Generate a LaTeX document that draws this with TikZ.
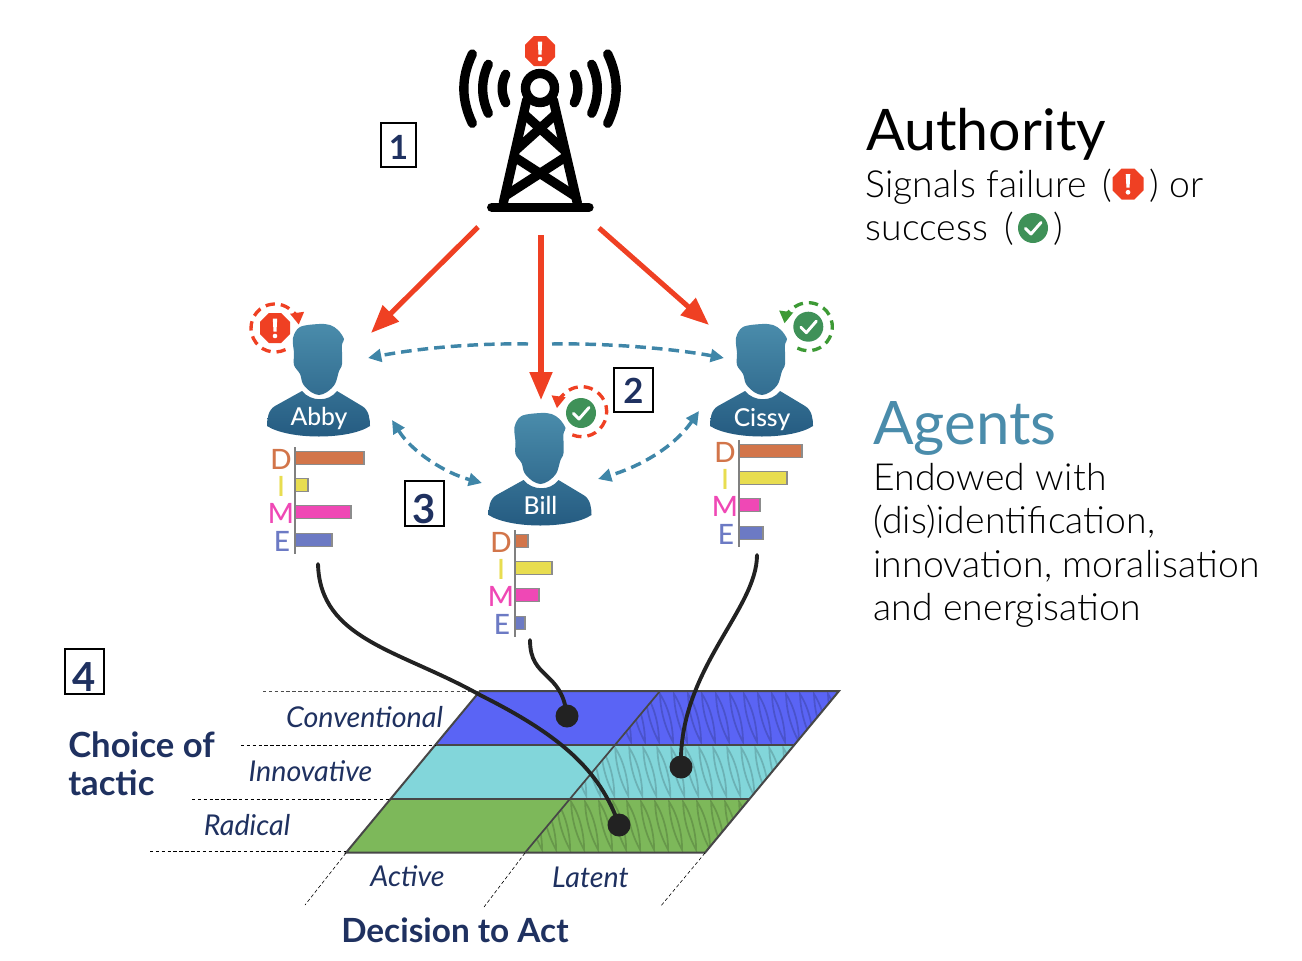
\documentclass[tikz,border=0pt]{standalone}
\usepackage{fontspec}
\setmainfont{Lato}
\newfontfamily\lightf{Lato Light}
\newfontfamily\bodyf{Lato Light}[LetterSpace=0.5]
\newfontfamily\medf{Lato Medium}
\usetikzlibrary{arrows.meta}
\definecolor{redc}{HTML}{EF4023}
\definecolor{greenc}{HTML}{3F9158}
\definecolor{dgreen}{HTML}{3D9A35}
\definecolor{bluec}{HTML}{3F86A8}
\definecolor{headt}{HTML}{4A8CAB}
\definecolor{headb}{HTML}{245A80}
\definecolor{navy}{HTML}{1F3160}
\definecolor{cd}{HTML}{D2754A}
\definecolor{ci}{HTML}{E8DD50}
\definecolor{cm}{HTML}{EF48B5}
\definecolor{ce}{HTML}{6C7AC4}
\definecolor{rowa}{HTML}{5A64F5}
\definecolor{rowb}{HTML}{82D6DA}
\definecolor{rowc}{HTML}{7DB85A}
\definecolor{inkc}{HTML}{222222}
\newcommand{\fsz}[1]{\fontsize{#1}{#1}\selectfont}
\tikzset{
  towerline/.style={line width=7pt,black,line cap=round},
  redarrow/.style={line width=3.8pt,redc,-{Triangle[length=21pt,width=16.5pt]}},
  bluearrow/.style={line width=2.6pt,bluec,dash pattern=on 8pt off 4.5pt,-{Triangle[length=10pt,width=9.5pt]}},
  bluedouble/.style={line width=2.6pt,bluec,dash pattern=on 8pt off 4.5pt,{Triangle[length=10pt,width=9.5pt]}-{Triangle[length=10pt,width=9.5pt]}},
  ringarrow/.style={line width=2.5pt,dash pattern=on 7pt off 4.5pt,-{Triangle[length=9pt,width=10pt]}},
  barbox/.style={draw=black!45,line width=1pt},
  axisline/.style={draw=black!50,line width=0.9pt},
  numbox/.style={draw=black,line width=1.3pt,fill=white,text=navy,font=\bfseries\fsz{30},inner sep=0pt,anchor=center},
  dimelabel/.style={font=\medf\fsz{21},inner sep=0pt,anchor=center},
  tactic/.style={font=\itshape\fsz{21.5},text=navy,inner sep=0pt,anchor=center},
  heading/.style={font=\bfseries\fsz{25},text=navy,inner sep=0pt,anchor=base west},
  bodytext/.style={font=\bodyf\fsz{28},text=black,inner sep=0pt,anchor=base west},
  leader/.style={draw=black,line width=0.6pt,dash pattern=on 2.6pt off 1.8pt},
  inkcurve/.style={draw=inkc,line width=2.9pt,line cap=round},
  inkdot/.style={fill=inkc},
  gridline/.style={draw=black!72,line width=1.5pt},
  hatchline/.style={draw=black,opacity=.17,line width=1.3pt}
}
\newcommand{\stopicon}[3]{%
  \begin{scope}[shift={(#1,#2)},scale=#3/15]
    \fill[redc] (-6.2,-15) -- (6.2,-15) -- (15,-6.2) -- (15,6.2) -- (6.2,15) -- (-6.2,15) -- (-15,6.2) -- (-15,-6.2) -- cycle;
    \fill[white] (-2.2,-9.5) -- (2.2,-9.5) -- (1.5,3.5) -- (-1.5,3.5) -- cycle;
    \fill[white] (0,8) circle [radius=2.3];
  \end{scope}}
\newcommand{\checkicon}[3]{%
  \begin{scope}[shift={(#1,#2)},scale=#3/15]
    \fill[greenc] (0,0) circle [radius=15];
    \draw[white,line width=2.2pt,line cap=round,line join=round] (-7.5,0.5) -- (-2,6) -- (8,-5.5);
  \end{scope}}
% person: name x y label baseline
\newcommand{\person}[5]{%
  \begin{scope}[shift={(#2,#3)}]
    \shade[top color=headt,bottom color=headb]
      plot[smooth cycle,tension=.55] coordinates {(0,0) (11,1) (19,6) (25,15) (23,21) (23,40) (20,47) (16,60) (8,68) (0,71) (-8,68) (-16,60) (-19,50) (-25,41) (-25,29) (-26,14) (-19,3)}
      (-17,67) -- (-44,82) .. controls (-51,86) and (-52,95) .. (-52,102)
      .. controls (-30,116) and (30,116) .. (51,102) .. controls (51,95) and (50,86) .. (43,82)
      -- (18,67) .. controls (10,78) and (-8,78) .. cycle;
    \node[font=\medf\fsz{18.5},text=white,inner sep=0pt,anchor=base] (#1) at (0,#5) {#4};
  \end{scope}}
\newcommand{\dime}[7]{%
  \begin{scope}[shift={(#2,#3)}]
    \draw[barbox,fill=cd] (0,4.5) rectangle (#4,17.5);
    \draw[barbox,fill=ci] (0,31.5) rectangle (#5,44.5);
    \draw[barbox,fill=cm] (0,58.5) rectangle (#6,71.5);
    \draw[barbox,fill=ce] (0,86.5) rectangle (#7,99.5);
    \draw[axisline] (0,0) -- (0,107);
    \node[dimelabel,text=cd] (#1d) at (-14,12) {D};
    \node[dimelabel,text=ci] (#1i) at (-14,39) {I};
    \node[dimelabel,text=cm] (#1m) at (-14,66.5) {M};
    \node[dimelabel,text=ce] (#1e) at (-13,94) {E};
  \end{scope}}
\newcommand{\hatchrow}[2]{%
  \begin{scope}
    \clip (#2,#1) -- ++(179,0) -- ++(-44.2,53.7) -- ++(-179,0) -- cycle;
    \foreach \k in {-4,...,13}{
      \pgfmathsetmacro{\xk}{#2+\k*14}
      \draw[hatchline] (\xk,#1+3) .. controls (\xk+0.5,#1+25) and (\xk+8,#1+42) .. (\xk+13,#1+51)
        .. controls (\xk+13,#1+30) and (\xk+6,#1+12) .. cycle;
    }
  \end{scope}}
\begin{document}
\begin{tikzpicture}[x=0.75pt,y=-0.75pt]
\useasboundingbox (0,0) rectangle (1302,960);
% ---------- tower
\coordinate (towerL) at (478,227);
\coordinate (towerC) at (541,235);
\coordinate (towerR) at (599,228);
\draw[towerline] (526.7,100) -- (503.3,203);
\draw[towerline] (553.3,100) -- (577.3,203);
\draw[towerline] (491.7,207.3) -- (589,207.3);
\draw[towerline,line cap=butt] (524,114) -- (564,150);
\draw[towerline,line cap=butt] (556,114) -- (516,150);
\draw[towerline,line cap=butt] (513,156) -- (575,196);
\draw[towerline,line cap=butt] (567,156) -- (505,196);
\fill[white] (540,88) circle [radius=15];
\draw[towerline] (540,88) circle [radius=14.5];
\draw[towerline] (505.7,74.3) .. controls (501,84) and (501,93) .. (505.7,102.7);
\draw[towerline] (488.3,64.3) .. controls (480.8,80) and (480.8,97) .. (488.3,113.3);
\draw[towerline] (472.3,54) .. controls (461,78) and (461,99) .. (472.3,123.3);
\draw[towerline] (574.3,74.3) .. controls (579,84) and (579,93) .. (574.3,102.7);
\draw[towerline] (591.7,64.3) .. controls (599.2,80) and (599.2,97) .. (591.7,113.3);
\draw[towerline] (607.7,54) .. controls (619,78) and (619,99) .. (607.7,123.3);
\stopicon{540}{51}{15}
% ---------- persons
\person{abby}{319}{324}{Abby}{101}
\person{bill}{540.5}{413}{Bill}{101}
\person{cissy}{762}{324}{Cissy}{102}
\dime{a}{295}{447}{69}{13}{56}{37}
\dime{b}{515}{530}{13}{37}{24}{10}
\dime{c}{739}{440}{63}{48}{21}{24}
% ---------- red arrows
\coordinate (abbyIn) at (371,333);
\coordinate (billIn) at (541,400);
\coordinate (cissyIn) at (709,325);
\draw[redarrow] (towerL) -- (abbyIn);
\draw[redarrow] (towerC) -- (billIn);
\draw[redarrow] (towerR) -- (cissyIn);
% ---------- blue arrows
\coordinate (bluemidL) at (528,344);
\coordinate (bluemidR) at (552,344);
\coordinate (abbySide) at (368,358);
\coordinate (cissySide) at (724,358);
\coordinate (abbyLow) at (392,420);
\coordinate (billLeft) at (482,483);
\coordinate (cissyLow) at (699,411);
\coordinate (billRight) at (598,479);
\draw[bluearrow] (bluemidL) .. controls (470,343) and (415,349) .. (abbySide);
\draw[bluearrow] (bluemidR) .. controls (610,343) and (675,349) .. (cissySide);
\draw[bluedouble] (abbyLow) .. controls (412,452) and (445,473) .. (billLeft);
\draw[bluedouble] (cissyLow) .. controls (672,450) and (635,468) .. (billRight);
% ---------- status icons
\stopicon{275}{328}{15}
\draw[ringarrow,redc] (275,328) ++(64:24 and 24) arc[start angle=64,end angle=352,radius=24];
\checkicon{581}{413}{15}
\draw[ringarrow,redc] (581.7,411.7) ++(112:25 and 25) arc[start angle=112,end angle=-172,radius=25];
\checkicon{808.3}{326.7}{15}
\draw[ringarrow,dgreen] (808.3,326.7) ++(117:24 and 24) arc[start angle=117,end angle=-172,radius=24];
% ---------- number boxes
\node[numbox,minimum width=26pt,minimum height=33pt,font=\bfseries\fsz{25}] (n1) at (398.5,145) {\smash{\raisebox{-11.2pt}{1}}};
\node[numbox,minimum width=29pt,minimum height=33.5pt,font=\bfseries\fsz{26}] (n2) at (633.5,390) {\smash{\raisebox{-10pt}{2}}};
\node[numbox,minimum width=29pt,minimum height=33.5pt] (n3) at (424.5,503.5) {\smash{\raisebox{-14.8pt}{3}}};
\node[numbox,minimum width=29pt,minimum height=33.5pt] (n4) at (84.5,671.5) {\smash{\raisebox{-14.8pt}{4}}};
% ---------- grid
\fill[rowa] (480,691) -- (839,691) -- (794.3,745) -- (435.3,745) -- cycle;
\fill[rowb] (435.3,745) -- (794.3,745) -- (750.1,798.5) -- (391.1,798.5) -- cycle;
\fill[rowc] (391.1,798.5) -- (750.1,798.5) -- (705,852.7) -- (346,852.7) -- cycle;
\hatchrow{691}{660}
\hatchrow{745}{615.3}
\hatchrow{798.8}{571.1}
\draw[gridline] (480,691) -- (839,691) -- (705,852.7) -- (346,852.7) -- cycle;
\draw[gridline] (435.3,745) -- (794.3,745);
\draw[gridline] (391.1,798.5) -- (750.1,798.5);
\draw[gridline,line width=1.3pt] (660,691) -- (525,852.7);
% ---------- leaders
\draw[leader,draw=black!70] (263,691.5) -- (480,691.5);
\draw[leader] (241,745) -- (435,745);
\draw[leader] (192,799) -- (391,799);
\draw[leader] (150,851) -- (346,851);
\draw[leader,line width=0.45pt] (346,853) -- (305,905);
\draw[leader,line width=0.45pt] (525,853) -- (484,907);
\draw[leader,line width=0.45pt] (705,853) -- (660,907);
% ---------- ink curves
\coordinate (dotA) at (619,825);
\coordinate (dotB) at (567,716);
\coordinate (dotC) at (681,767);
\coordinate (abbyOut) at (318,564);
\coordinate (billOut) at (530,640);
\coordinate (cissyOut) at (757,555);
\draw[inkcurve] (abbyOut) .. controls (320,640) and (400,650) .. (480,695) .. controls (560,735) and (600,770) .. (dotA);
\draw[inkcurve] (billOut) .. controls (530,680) and (562,670) .. (dotB);
\draw[inkcurve] (cissyOut) .. controls (757,610) and (678,670) .. (dotC);
\fill[inkdot] (dotA) circle [radius=11.5];
\fill[inkdot] (dotB) circle [radius=11.5];
\fill[inkdot] (dotC) circle [radius=11.5];
% ---------- grid labels
\node[tactic] (conv) at (364.5,717) {Conventional};
\node[tactic] (innov) at (310.5,771) {Innovative};
\node[tactic] (radical) at (247,825) {Radical};
\node[tactic] (active) at (407.5,876) {Active};
\node[tactic] (latent) at (590.5,877) {Latent};
\node[heading,font=\bfseries\fsz{26}] (choice) at (68,757) {Choice of};
\node[heading,font=\bfseries\fsz{26}] (tactictxt) at (68,795) {tactic};
\node[heading] (decision) at (341,942) {Decision to Act};
% ---------- right texts
\node[font=\fsz{43},inner sep=0pt,anchor=base west] (auth) at (866,150) {Authority};
\node[bodytext] (sig) at (865,197) {Signals failure\hspace{3.5pt} (};
\stopicon{1128}{184}{15.5}
\node[bodytext] (sigb) at (1149,197) {) or};
\node[bodytext] (succ) at (865,240) {success\hspace{4pt} (};
\checkicon{1033}{228}{15}
\node[bodytext] (succb) at (1053,240) {)};
\node[font=\fsz{45},text=headt,inner sep=0pt,anchor=base west] (agents) at (873,444) {Agents};
\node[bodytext] (ag1) at (873,490) {Endowed with};
\node[bodytext] (ag2) at (873,533) {(dis)identification,};
\node[bodytext] (ag3) at (873,577) {innovation, moralisation};
\node[bodytext] (ag4) at (873,620) {and energisation};
\end{tikzpicture}
\end{document}
